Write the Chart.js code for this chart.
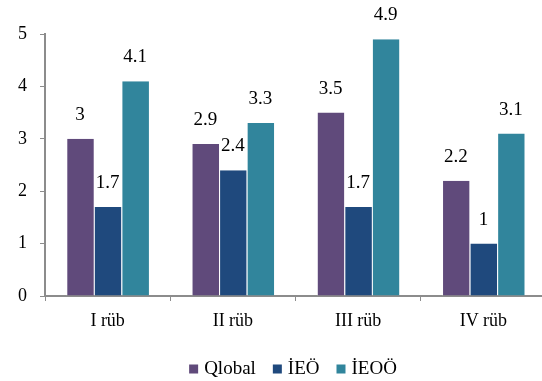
<!DOCTYPE html>
<html>
<head>
<meta charset="utf-8">
<script src="https://cdn.jsdelivr.net/npm/chart.js@4.4.1/dist/chart.umd.min.js"></script>
<style>
  html, body { margin: 0; padding: 0; background: #fff; overflow: hidden; }
  #wrap { width: 548px; height: 381px; position: relative; }
</style>
</head>
<body>
<div id="wrap"><canvas id="c"></canvas></div>
<script>
// Quarterly values per series
const categories = ['I rüb', 'II rüb', 'III rüb', 'IV rüb'];
const seriesNames = ['Qlobal', 'İEÖ', 'İEOÖ'];
const qlobal = [3, 2.9, 3.5, 2.2];
const ieo = [1.7, 2.4, 1.7, 1];
const ieoo = [4.1, 3.3, 4.9, 3.1];
const yTicks = [0, 1, 2, 3, 4, 5];

const colors = ['#604A7B', '#1F497D', '#31859C'];
const FONT = '"Liberation Serif", "Times New Roman", serif';
const AXIS = '#8c8c8c';

// Writes each bar's value above it
const valueLabels = {
  id: 'valueLabels',
  afterDatasetsDraw(chart) {
    const ctx = chart.ctx;
    ctx.save();
    ctx.font = '19px ' + FONT;
    ctx.fillStyle = '#000';
    ctx.textAlign = 'center';
    ctx.textBaseline = 'middle';
    chart.data.datasets.forEach((ds, i) => {
      chart.getDatasetMeta(i).data.forEach((bar, j) => {
        ctx.fillText(String(ds.data[j]), bar.x, bar.y - 24);
      });
    });
    ctx.restore();
  }
};

// Legend row under the axis: small square swatch followed by the series name
const bottomLegend = {
  id: 'bottomLegend',
  afterDraw(chart) {
    const ctx = chart.ctx;
    const box = 9, gapText = 6, gapItem = 17, cy = 369, cx = 293;
    ctx.save();
    ctx.font = '19px ' + FONT;
    ctx.textBaseline = 'middle';
    ctx.textAlign = 'left';
    const items = chart.data.datasets.map(ds => ({
      text: ds.label, color: ds.backgroundColor, w: ctx.measureText(ds.label).width
    }));
    const total = items.reduce((s, it) => s + box + gapText + it.w, 0) + gapItem * (items.length - 1);
    let x = cx - total / 2;
    items.forEach(it => {
      ctx.fillStyle = it.color;
      ctx.fillRect(x, cy - box / 2, box, box);
      ctx.fillStyle = '#000';
      ctx.fillText(it.text, x + box + gapText, cy);
      x += box + gapText + it.w + gapItem;
    });
    ctx.restore();
  }
};

new Chart(document.getElementById('c'), {
  type: 'bar',
  data: {
    labels: categories,
    datasets: [
      { label: seriesNames[0], data: qlobal, backgroundColor: colors[0] },
      { label: seriesNames[1], data: ieo, backgroundColor: colors[1] },
      { label: seriesNames[2], data: ieoo, backgroundColor: colors[2] }
    ].map(d => Object.assign(d, {
      borderColor: 'rgba(255,255,255,0.6)',
      borderWidth: { left: 1, right: 0, top: 0, bottom: 0 },
      categoryPercentage: 0.66,
      barPercentage: 1.0
    }))
  },
  options: {
    responsive: true,
    maintainAspectRatio: false,
    animation: false,
    devicePixelRatio: 1,
    layout: { padding: { top: 34, right: 2, left: 0, bottom: 45 } },
    plugins: {
      legend: { display: false },
      tooltip: { enabled: false }
    },
    scales: {
      x: {
        grid: { display: true, drawOnChartArea: false, drawTicks: true, tickLength: 5, color: AXIS, offset: true },
        border: { display: true, color: AXIS, width: 2 },
        ticks: { font: { family: FONT, size: 18 }, color: '#000', padding: 9 },
        afterFit(scale) { scale.height = 40; }
      },
      y: {
        min: 0,
        max: 5,
        afterBuildTicks(scale) { scale.ticks = yTicks.map(v => ({ value: v })); },
        grid: { display: true, drawOnChartArea: false, drawTicks: true, tickLength: 5, color: AXIS },
        border: { display: true, color: AXIS, width: 2 },
        ticks: { font: { family: FONT, size: 18 }, color: '#000', padding: 13 },
        afterFit(scale) { scale.width = 45; }
      }
    }
  },
  plugins: [valueLabels, bottomLegend]
});
</script>
</body>
</html>
